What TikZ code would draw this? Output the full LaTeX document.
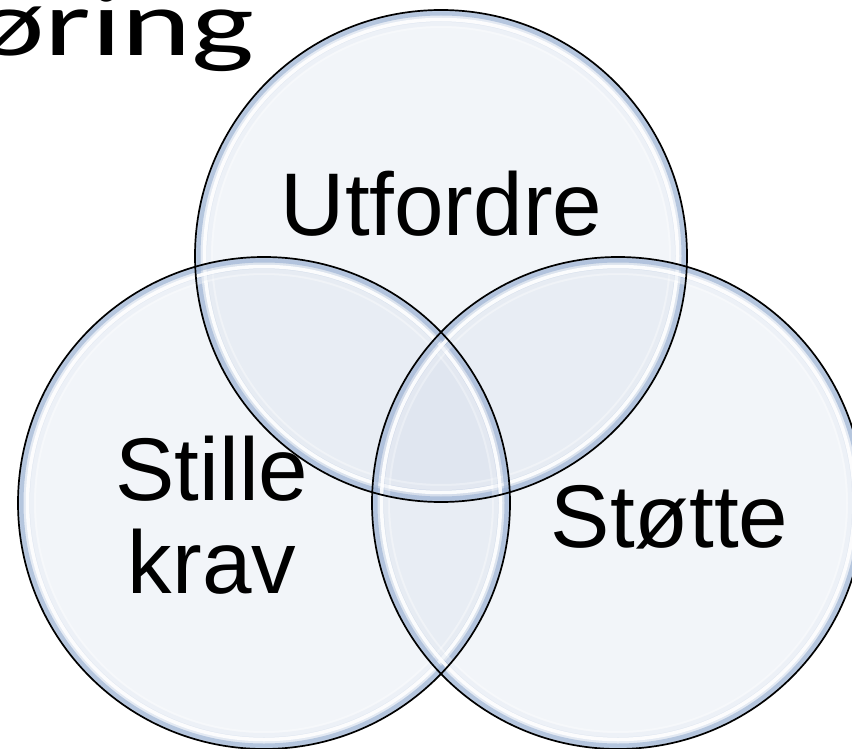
\documentclass[tikz,border=0pt]{standalone}
\usepackage{fontspec}
\setmainfont{Liberation Sans}
\newfontfamily\titlefont{Carlito}
\definecolor{bubfill}{HTML}{C4D0E4}
\definecolor{rimblue}{HTML}{9DB3D4}
\begin{document}
\begin{tikzpicture}[x=1pt,y=-1pt,
  bubble/.style={circle, minimum size=492pt, inner sep=0pt, fill=bubfill, fill opacity=0.21},
  rimA/.style={draw=rimblue, line width=5pt, draw opacity=0.65},
  rimAA/.style={draw=rimblue, line width=14pt, draw opacity=0.16},
  rimB/.style={draw=white, line width=3.5pt, draw opacity=0.9},
  rimC/.style={draw=white, line width=6pt, draw opacity=0.35},
  outline/.style={draw=black, line width=1.7pt},
  lbl/.style={font=\fontsize{89}{89}\selectfont, inner sep=0pt, anchor=base, text=black}]
\useasboundingbox (0,0) rectangle (852,749);
\clip (0,0) rectangle (852,749);
\fill[white] (0,0) rectangle (852,749);
% bubbles
\node[bubble] (top)   at (441,256) {};
\node[bubble] (left)  at (264,503) {};
\node[bubble] (right) at (618,503) {};
% rims
\foreach \c in {top,left,right}{
  \path[rimAA] (\c.center) circle[radius=237];
  \path[rimA]  (\c.center) circle[radius=243];
  \path[rimB]  (\c.center) circle[radius=236.5];
  \path[rimC]  (\c.center) circle[radius=231];
}
% outlines
\foreach \c in {top,left,right}{
  \path[outline] (\c.center) circle[radius=246];
}
% texts
\node[inner sep=0pt, anchor=base east, font=\titlefont\fontsize{94}{94}\selectfont] (title) at (255,56) {\scalebox{1.42}[1]{øring}};
\node[lbl] (utf) at (441.5,235) {Utfordre};
\node[lbl] (stille) at (212,500) {Stille};
\node[lbl] (krav) at (212,593) {krav};
\node[lbl] (stotte) at (669.5,547) {Støtte};
\end{tikzpicture}
\end{document}
